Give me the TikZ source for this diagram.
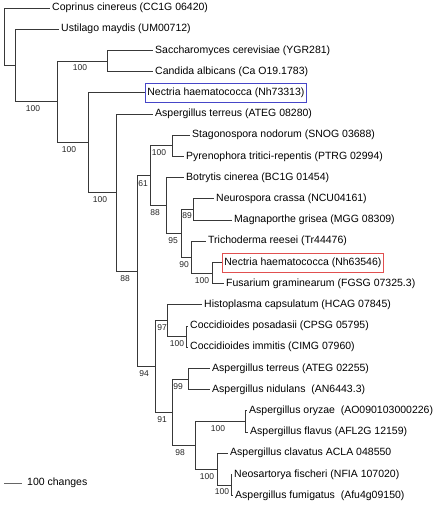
\documentclass[tikz,border=0pt]{standalone}
\usepackage{fontspec}
\setmainfont{Liberation Sans}
\begin{document}
\begin{tikzpicture}[x=1pt,y=-1pt,
  br/.style={draw=black!78,line width=0.8pt},
  leaf/.style={anchor=west,inner xsep=2pt,inner ysep=0pt,font=\fontsize{10.5}{12}\selectfont,text height=8pt,text depth=2.5pt},
  bleaf/.style={leaf,draw=#1,line width=0.8pt,minimum height=19pt,inner xsep=2pt},
  lab/.style={inner sep=0pt,font=\fontsize{8.5}{10}\selectfont,text=black!85},
  pt/.style={inner sep=0pt,minimum size=0pt}]
\useasboundingbox (0,0) rectangle (438,505);
\definecolor{boxblue}{RGB}{70,70,200}
\definecolor{boxred}{RGB}{225,80,80}
% leaves
\node[leaf] (L0) at (50,8) {Coprinus cinereus (CC1G 06420)};
\node[leaf] (L1) at (59,29.2) {Ustilago maydis (UM00712)};
\node[leaf] (L2) at (153,50.4) {Saccharomyces cerevisiae (YGR281)};
\node[leaf] (L3) at (153,71.6) {Candida albicans (Ca O19.1783)};
\node[bleaf=boxblue] (L4) at (145,92.8) {Nectria haematococca (Nh73313)};
\node[leaf] (L5) at (153,114) {Aspergillus terreus (ATEG 08280)};
\node[leaf] (L6) at (190,135.2) {Stagonospora nodorum (SNOG 03688)};
\node[leaf] (L7) at (184,156.4) {Pyrenophora tritici-repentis (PTRG 02994)};
\node[leaf] (L8) at (184,177.6) {Botrytis cinerea (BC1G 01454)};
\node[leaf] (L9) at (214,198.8) {Neurospora crassa (NCU04161)};
\node[leaf] (L10) at (232,220) {Magnaporthe grisea (MGG 08309)};
\node[leaf] (L11) at (206,241.2) {Trichoderma reesei (Tr44476)};
\node[bleaf=boxred] (L12) at (222,262.4) {Nectria haematococca (Nh63546)};
\node[leaf] (L13) at (224,283.6) {Fusarium graminearum (FGSG 07325.3)};
\node[leaf] (L14) at (202,304.8) {Histoplasma capsulatum (HCAG 07845)};
\node[leaf] (L15) at (188,326) {Coccidioides posadasii (CPSG 05795)};
\node[leaf] (L16) at (188,347.2) {Coccidioides immitis (CIMG 07960)};
\node[leaf] (L17) at (210,368.4) {Aspergillus terreus (ATEG 02255)};
\node[leaf] (L18) at (210,389.6) {Aspergillus nidulans\ \ (AN6443.3)};
\node[leaf] (L19) at (247,410.8) {Aspergillus oryzae\ \ (AO090103000226)};
\node[leaf] (L20) at (248,432) {Aspergillus flavus (AFL2G 12159)};
\node[leaf] (L21) at (228,453.2) {Aspergillus clavatus ACLA 048550};
\node[leaf] (L22) at (232,474.4) {Neosartorya fischeri (NFIA 107020)};
\node[leaf] (L23) at (233,495.6) {Aspergillus fumigatus\ \ (Afu4g09150)};
% internal nodes
\coordinate (R) at (4,36.75);
\coordinate (N1) at (15,65.5);
\coordinate (N2) at (57,101.8);
\coordinate (N3) at (107,61);
\coordinate (N4) at (88,142.65);
\coordinate (N5) at (116,192.5);
\coordinate (N6) at (137,271);
\coordinate (N7) at (150,175.6);
\coordinate (N8) at (172,145.8);
\coordinate (N9) at (166,205.4);
\coordinate (N10) at (181,233.25);
\coordinate (N11) at (193,209.4);
\coordinate (N12) at (191,257.1);
\coordinate (N13) at (212,273);
\coordinate (N14) at (155,366.4);
\coordinate (N15) at (167,320.7);
\coordinate (NC) at (186,336.6);
\coordinate (N16) at (172,412.1);
\coordinate (N17) at (188,379);
\coordinate (N18) at (195,445.25);
\coordinate (N19) at (245,421.4);
\coordinate (N20) at (217,469.1);
\coordinate (N21) at (231,485);
% branches
\draw[br] (R) |- (L0.west);
\draw[br] (R) |- (N1);
\draw[br] (N1) |- (L1.west);
\draw[br] (N1) |- (N2);
\draw[br] (N2) |- (N3);
\draw[br] (N2) |- (N4);
\draw[br] (N3) |- (L2.west);
\draw[br] (N3) |- (L3.west);
\draw[br] (N4) |- (L4.west);
\draw[br] (N4) |- (N5);
\draw[br] (N5) |- (L5.west);
\draw[br] (N5) |- (N6);
\draw[br] (N6) |- (N7);
\draw[br] (N6) |- (N14);
\draw[br] (N7) |- (N8);
\draw[br] (N7) |- (N9);
\draw[br] (N8) |- (L6.west);
\draw[br] (N8) |- (L7.west);
\draw[br] (N9) |- (L8.west);
\draw[br] (N9) |- (N10);
\draw[br] (N10) |- (N11);
\draw[br] (N10) |- (N12);
\draw[br] (N11) |- (L9.west);
\draw[br] (N11) |- (L10.west);
\draw[br] (N12) |- (L11.west);
\draw[br] (N12) |- (N13);
\draw[br] (N13) |- (L12.west);
\draw[br] (N13) |- (L13.west);
\draw[br] (N14) |- (N15);
\draw[br] (N14) |- (N16);
\draw[br] (N15) |- (L14.west);
\draw[br] (N15) |- (NC);
\draw[br] (NC) |- (L15.west);
\draw[br] (NC) |- (L16.west);
\draw[br] (N16) |- (N17);
\draw[br] (N16) |- (N18);
\draw[br] (N17) |- (L17.west);
\draw[br] (N17) |- (L18.west);
\draw[br] (N18) |- (N19);
\draw[br] (N18) |- (N20);
\draw[br] (N19) |- (L19.west);
\draw[br] (N19) |- (L20.west);
\draw[br] (N20) |- (L21.west);
\draw[br] (N20) |- (N21);
\draw[br] (N21) |- (L22.west);
\draw[br] (N21) |- (L23.west);
% support labels
\node[lab] (b2) at (33,109) {100};
\node[lab] (b3) at (80,68) {100};
\node[lab] (b4) at (69,150) {100};
\node[lab] (b5) at (100,200) {100};
\node[lab] (b6) at (125,279) {88};
\node[lab] (b7) at (143,184) {61};
\node[lab] (b8) at (159,153) {100};
\node[lab] (b9) at (155,213) {88};
\node[lab] (b10) at (173,241) {95};
\node[lab] (b11) at (187,216) {89};
\node[lab] (b12) at (184,265) {90};
\node[lab] (b13) at (202,281) {100};
\node[lab] (b14) at (144,374) {94};
\node[lab] (b15) at (162,328) {97};
\node[lab] (bC) at (177,344) {100};
\node[lab] (b16) at (162,420) {91};
\node[lab] (b17) at (178,387) {99};
\node[lab] (b18) at (180,453) {98};
\node[lab] (b19) at (218,429) {100};
\node[lab] (b20) at (207,477) {100};
\node[lab] (b21) at (222,492) {100};
% scale bar
\coordinate (S0) at (4,483);
\node[leaf,inner xsep=0pt] (S1) at (27,483) {100 changes};
\draw[br,draw=black!60] (S0) -- ([xshift=-5pt]S1.west);
\end{tikzpicture}
\end{document}
